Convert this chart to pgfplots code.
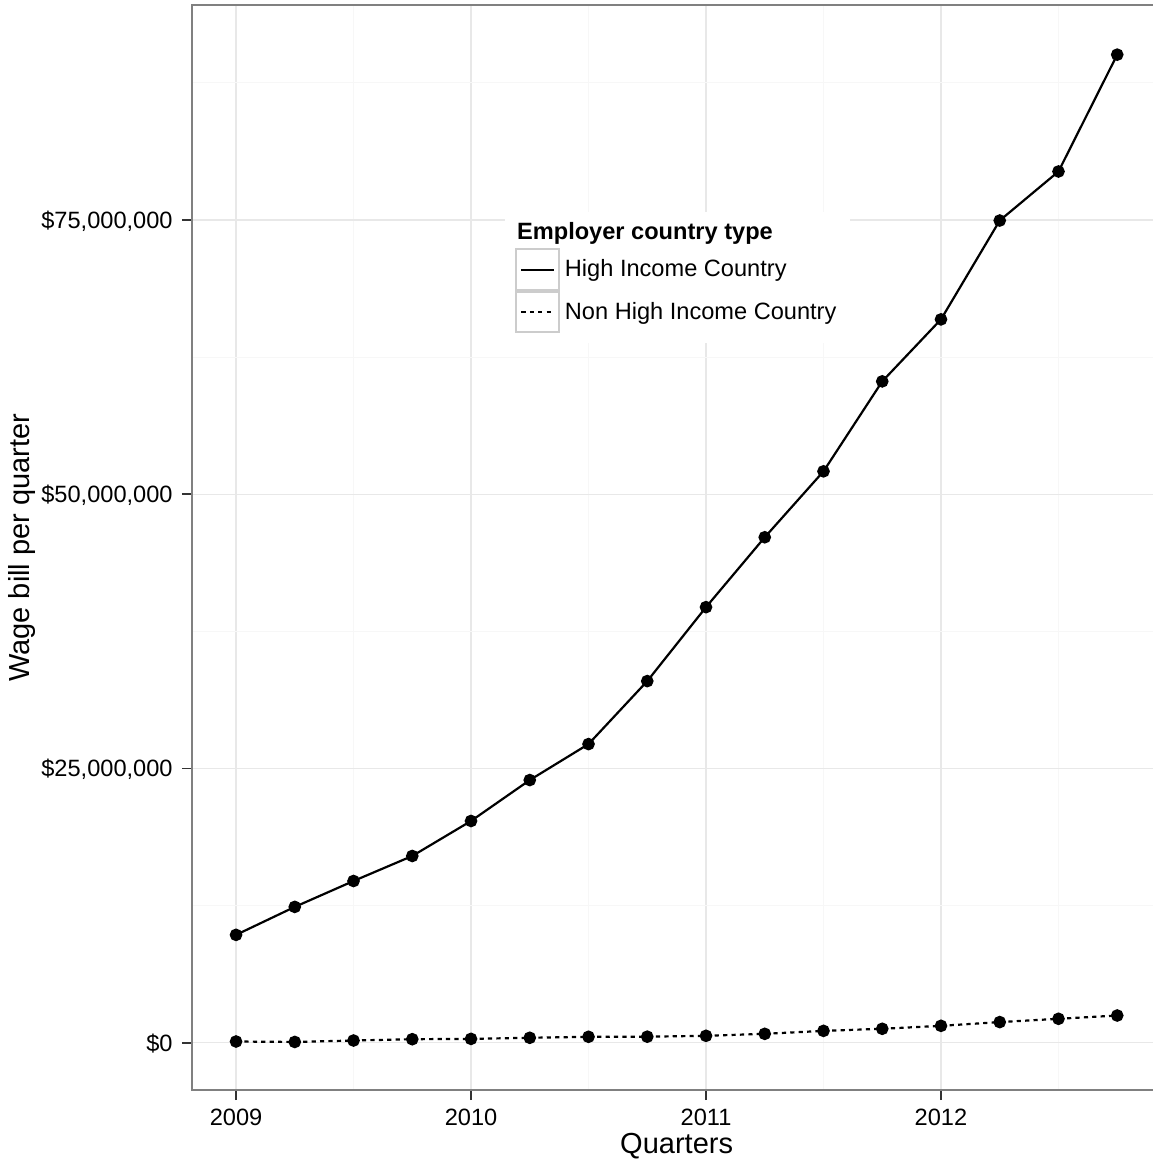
\documentclass[border=0pt]{standalone}
\usepackage{pgfplots}
\pgfplotsset{compat=1.18}
\usepackage{fontspec}
\setmainfont{Liberation Sans}
\newcommand{\tickfont}{\fontsize{11.8bp}{13bp}\selectfont}
\newcommand{\titlefont}{\fontsize{14.5bp}{16bp}\selectfont}
\begin{document}
\begin{tikzpicture}
\begin{axis}[
  scale only axis, width=484.7bp, height=542.3bp,
  xmin=2008.8125, xmax=2012.9375, ymin=-4.3, ymax=94.55,
  xtick={2009,2010,2011,2012}, xticklabels={2009,2010,2011,2012},
  ytick={0,25,50,75},
  yticklabels={{\$0},{\$25,000,000},{\$50,000,000},{\$75,000,000}},
  minor xtick={2009.5,2010.5,2011.5,2012.5},
  minor ytick={12.5,37.5,62.5,87.5},
  grid=both,
  major grid style={draw=black!9, line width=0.55bp},
  minor grid style={draw=black!3, line width=0.55bp},
  axis line style={draw=black!50, line width=1bp},
  tick pos=left, tick align=outside,
  major tick length=5bp, minor tick length=0pt,
  major tick style={draw=black!80, line width=0.8bp},
  xticklabel style={font=\tickfont, anchor=base, yshift=-12.8bp, inner sep=0pt},
  yticklabel style={font=\tickfont, anchor=base east, inner sep=0pt, xshift=-4.5bp, yshift=-4.2bp},
  xlabel={Quarters}, ylabel={Wage bill per quarter},
  xlabel style={font=\titlefont, at={(axis description cs:0.5,-0.0581)}, anchor=base, inner sep=0pt},
  ylabel style={font=\titlefont, at={(axis description cs:-0.1755,0.5)}, anchor=center, rotate=0, inner sep=0pt},
  legend style={at={(axis cs:2010.187,72.45)}, anchor=north west, draw=none, fill=none,
    inner sep=0pt, row sep=0pt, column sep=2.5bp, font=\tickfont, nodes={inner sep=0pt}},
  legend cell align=left,
  legend image code/.code={
    \draw[draw=black!20, line width=1bp, fill=white, solid] (0bp,-10.125bp) rectangle (21.3bp,10.125bp);
    \draw[#1] (2.5bp,0bp) -- (18.8bp,0bp);
  },
]
\addplot[black, solid, line width=1.1bp, mark=*, mark size=2.6bp, mark options={solid}] coordinates {
(2009,9.84) (2009.25,12.39) (2009.5,14.75) (2009.75,17.03)
(2010,20.22) (2010.25,23.95) (2010.5,27.23) (2010.75,32.97)
(2011,39.71) (2011.25,46.08) (2011.5,52.09) (2011.75,60.29)
(2012,65.94) (2012.25,74.95) (2012.5,79.42) (2012.75,90.07)
};
\addlegendentry{High Income Country}
\addplot[black, dash pattern=on 2.1bp off 2.1bp, line width=1.1bp, mark=*, mark size=2.6bp, mark options={solid}] coordinates {
(2009,0.12) (2009.25,0.08) (2009.5,0.21) (2009.75,0.33)
(2010,0.36) (2010.25,0.46) (2010.5,0.55) (2010.75,0.56)
(2011,0.64) (2011.25,0.82) (2011.5,1.09) (2011.75,1.28)
(2012,1.55) (2012.25,1.89) (2012.5,2.19) (2012.75,2.49)
};
\addlegendentry{Non High Income Country}
\fill[white] (axis cs:2010.1447,75.73) rectangle (axis cs:2011.6128,63.79);
\node[anchor=base west, inner sep=0pt, font=\tickfont\bfseries] at (axis cs:2010.1945,73.2) {Employer country type};
\end{axis}
\pgfresetboundingbox
\path[use as bounding box] ([xshift=-96bp,yshift=-36bp]current axis.south west) rectangle ([xshift=480.5bp,yshift=2.75bp]current axis.north west);
\end{tikzpicture}
\end{document}
